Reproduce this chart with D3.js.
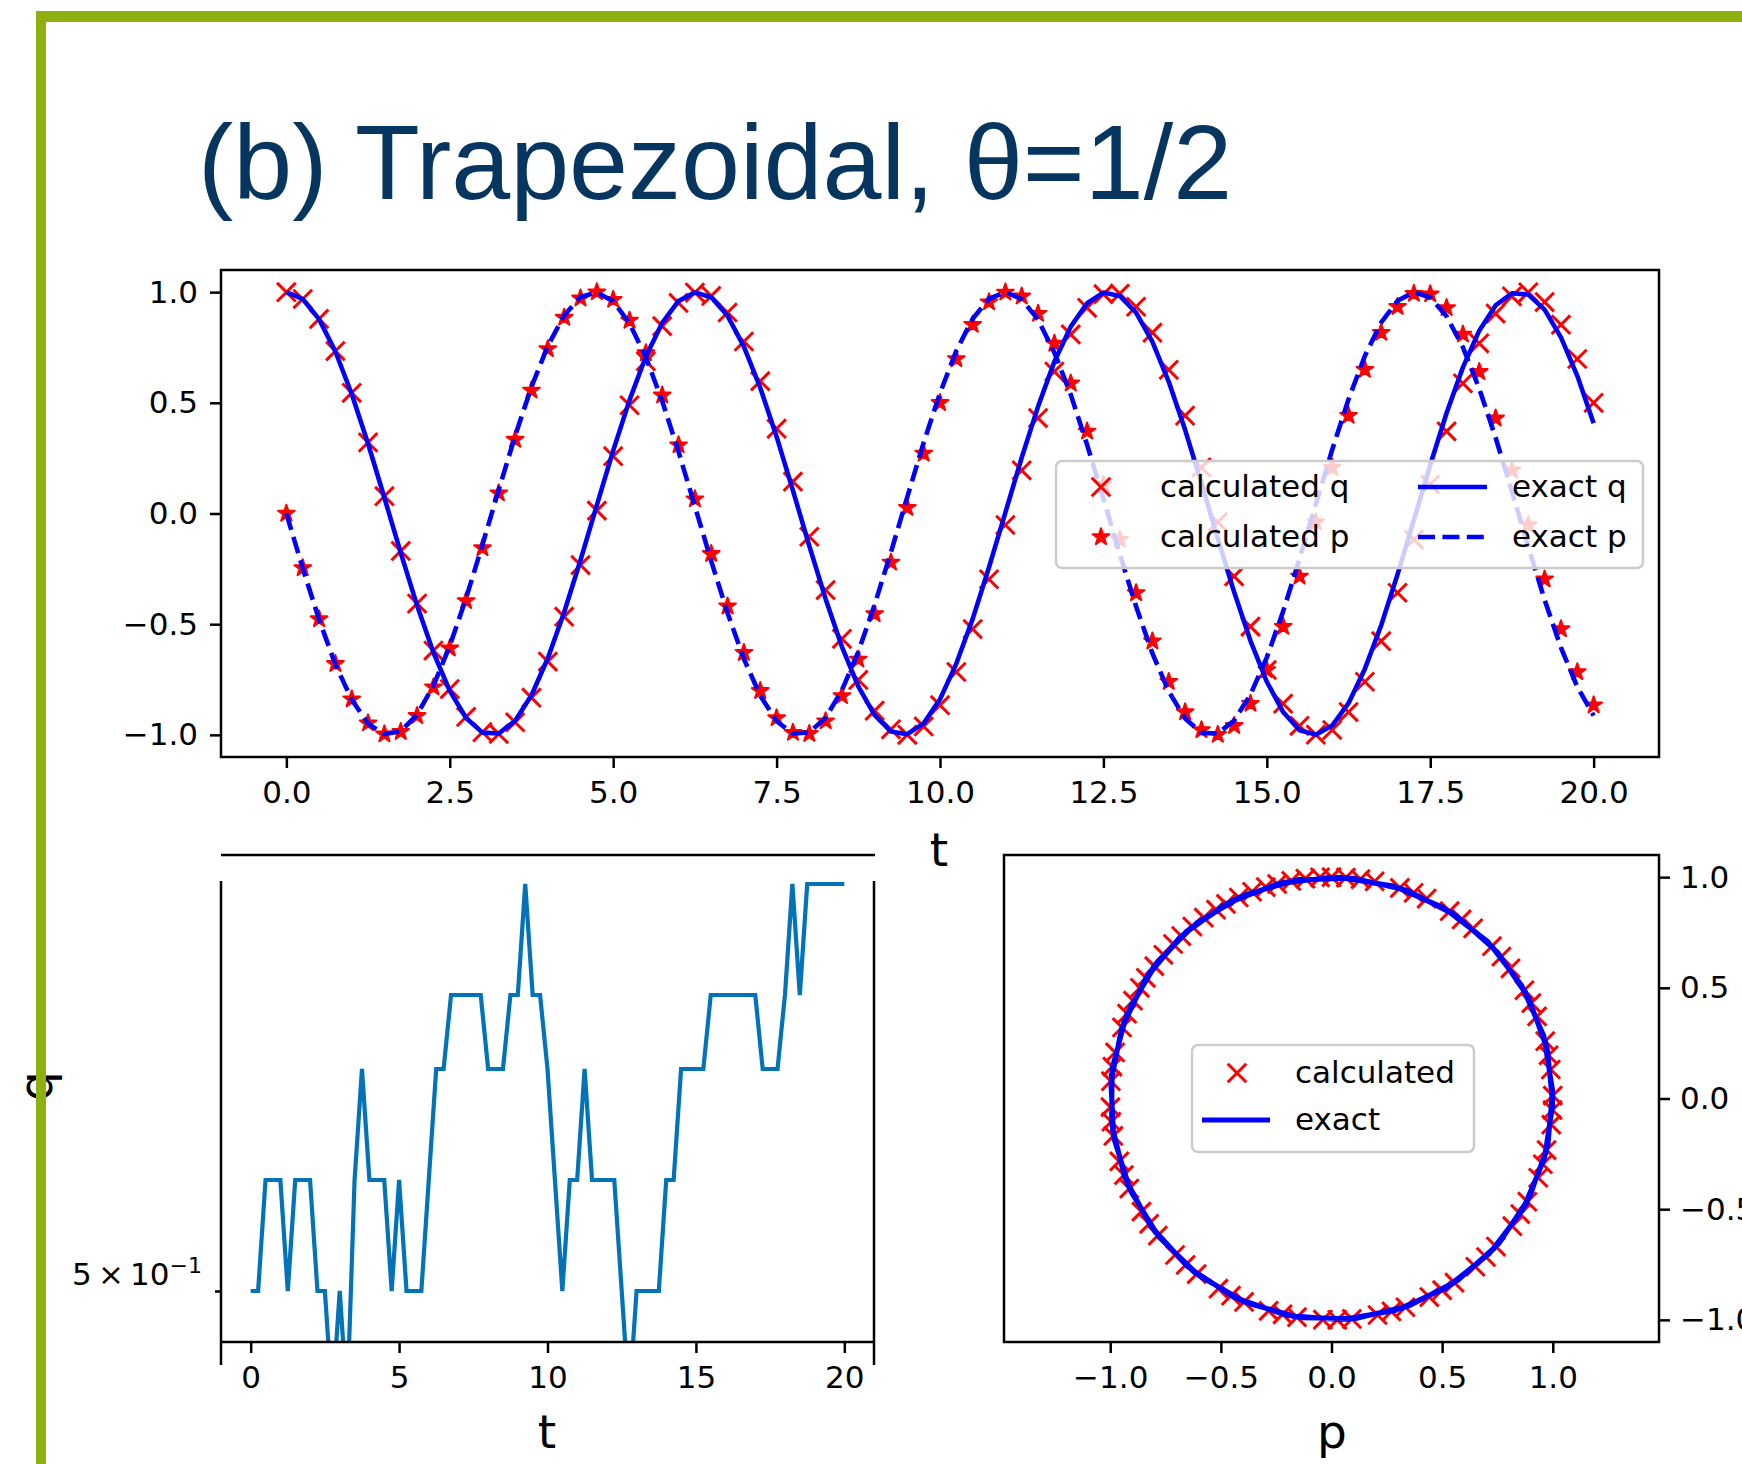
<!DOCTYPE html>
<html lang="en">
<head>
    <meta charset="UTF-8">
    <title>(b) Trapezoidal, θ=1/2</title>
    <script src="https://cdn.jsdelivr.net/npm/d3@7"></script>
    <style>
        body {
            margin: 0;
            background: #fff;
        }
        svg text {
            font-family: 'DejaVu Sans', sans-serif;
        }
        .title {
            font-family: 'Liberation Sans', Arial, sans-serif;
        }
    </style>
</head>
<body>
    <svg width="1742" height="1464"></svg>
    <script>
        // time grid, h = 0.25
        const tValues = [
            0, 0.25, 0.5, 0.75, 1, 1.25, 1.5, 1.75, 2, 2.25,
            2.5, 2.75, 3, 3.25, 3.5, 3.75, 4, 4.25, 4.5, 4.75,
            5, 5.25, 5.5, 5.75, 6, 6.25, 6.5, 6.75, 7, 7.25,
            7.5, 7.75, 8, 8.25, 8.5, 8.75, 9, 9.25, 9.5, 9.75,
            10, 10.25, 10.5, 10.75, 11, 11.25, 11.5, 11.75, 12, 12.25,
            12.5, 12.75, 13, 13.25, 13.5, 13.75, 14, 14.25, 14.5, 14.75,
            15, 15.25, 15.5, 15.75, 16, 16.25, 16.5, 16.75, 17, 17.25,
            17.5, 17.75, 18, 18.25, 18.5, 18.75, 19, 19.25, 19.5, 19.75,
            20
        ];

        const calcQ = [
            1.000, 0.969, 0.879, 0.734, 0.545, 0.321, 0.078, -0.169, -0.407, -0.619,
            -0.793, -0.919, -0.988, -0.996, -0.943, -0.832, -0.669, -0.466, -0.233, 0.013,
            0.259, 0.489, 0.688, 0.846, 0.951, 0.998, 0.983, 0.908, 0.777, 0.598,
            0.383, 0.144, -0.105, -0.346, -0.566, -0.752, -0.891, -0.975, -1.000, -0.962,
            -0.866, -0.716, -0.522, -0.297, -0.052, 0.195, 0.431, 0.641, 0.809, 0.929,
            0.991, 0.993, 0.934, 0.817, 0.649, 0.442, 0.208, -0.039, -0.284, -0.511,
            -0.707, -0.859, -0.959, -0.999, -0.978, -0.897, -0.760, -0.577, -0.358, -0.118,
            0.131, 0.371, 0.588, 0.769, 0.903, 0.981, 0.999, 0.955, 0.853, 0.698,
            0.500
        ];

        const calcP = [
            0.000, -0.246, -0.477, -0.679, -0.839, -0.947, -0.997, -0.986, -0.914, -0.785,
            -0.609, -0.395, -0.156, 0.092, 0.334, 0.556, 0.743, 0.885, 0.972, 1.000,
            0.966, 0.872, 0.725, 0.534, 0.309, 0.065, -0.182, -0.419, -0.629, -0.801,
            -0.924, -0.990, -0.995, -0.938, -0.824, -0.659, -0.454, -0.221, 0.026, 0.271,
            0.500, 0.698, 0.853, 0.955, 0.999, 0.981, 0.903, 0.768, 0.588, 0.371,
            0.131, -0.118, -0.359, -0.577, -0.760, -0.897, -0.978, -0.999, -0.959, -0.859,
            -0.707, -0.511, -0.284, -0.039, 0.208, 0.442, 0.650, 0.817, 0.934, 0.993,
            0.991, 0.929, 0.809, 0.640, 0.430, 0.195, -0.052, -0.297, -0.522, -0.716,
            -0.866
        ];

        const exactQ = [
            1.000, 0.969, 0.878, 0.732, 0.540, 0.315, 0.071, -0.178, -0.416, -0.628,
            -0.801, -0.924, -0.990, -0.994, -0.936, -0.821, -0.654, -0.446, -0.211, 0.038,
            0.284, 0.512, 0.709, 0.861, 0.960, 0.999, 0.977, 0.893, 0.754, 0.568,
            0.347, 0.104, -0.146, -0.386, -0.602, -0.781, -0.911, -0.985, -0.997, -0.948,
            -0.839, -0.678, -0.476, -0.243, 0.004, 0.252, 0.483, 0.686, 0.844, 0.950,
            0.998, 0.983, 0.907, 0.775, 0.595, 0.378, 0.137, -0.113, -0.355, -0.575,
            -0.760, -0.897, -0.979, -0.999, -0.958, -0.857, -0.702, -0.505, -0.275, -0.029,
            0.219, 0.454, 0.660, 0.826, 0.940, 0.995, 0.989, 0.921, 0.796, 0.622,
            0.408
        ];

        const exactP = [
            0.000, -0.247, -0.479, -0.682, -0.841, -0.949, -0.997, -0.984, -0.909, -0.778,
            -0.598, -0.382, -0.141, 0.108, 0.351, 0.572, 0.757, 0.895, 0.978, 0.999,
            0.959, 0.859, 0.706, 0.508, 0.279, 0.033, -0.215, -0.450, -0.657, -0.823,
            -0.938, -0.995, -0.989, -0.923, -0.798, -0.625, -0.412, -0.174, 0.075, 0.320,
            0.544, 0.735, 0.880, 0.970, 1.000, 0.968, 0.876, 0.727, 0.537, 0.311,
            0.066, -0.183, -0.420, -0.632, -0.804, -0.926, -0.991, -0.994, -0.935, -0.818,
            -0.650, -0.442, -0.206, 0.042, 0.288, 0.516, 0.712, 0.863, 0.961, 1.000,
            0.976, 0.891, 0.751, 0.564, 0.343, 0.099, -0.150, -0.390, -0.606, -0.783,
            -0.913
        ];

        // energy minus 0.5, in units of 1e-16 (round-off levels)
        const energyDev = [
            0, 0, 1.11, 1.11, 1.11, 0, 1.11, 1.11, 1.11, 0,
            0, -1.11, 0, -1.11, 1.11, 2.22, 1.11, 1.11, 1.11, 0,
            1.11, 0, 0, 0, 1.11, 2.22, 2.22, 2.96, 2.96, 2.96,
            2.96, 2.96, 2.22, 2.22, 2.22, 2.96, 2.96, 4.07, 2.96, 2.96,
            2.22, 1.11, 0, 1.11, 1.11, 2.22, 1.11, 1.11, 1.11, 1.11,
            0, -1.11, 0, 0, 0, 0, 1.11, 1.11, 2.22, 2.22,
            2.22, 2.22, 2.96, 2.96, 2.96, 2.96, 2.96, 2.96, 2.96, 2.22,
            2.22, 2.22, 2.96, 4.07, 2.96, 4.07, 4.07, 4.07, 4.07, 4.07,
            4.07
        ];

        const topTicksX = [0, 2.5, 5, 7.5, 10, 12.5, 15, 17.5, 20];
        const topTicksY = [-1, -0.5, 0, 0.5, 1];
        const errTicksX = [0, 5, 10, 15, 20];
        const errTicksY = [0];
        const phaseTicks = [-1, -0.5, 0, 0.5, 1];

        const topLegend = [
            { label: "calculated q", kind: "x" },
            { label: "calculated p", kind: "star" },
            { label: "exact q", kind: "solid" },
            { label: "exact p", kind: "dash" }
        ];
        const phaseLegend = [
            { label: "calculated", kind: "x" },
            { label: "exact", kind: "solid" }
        ];

        const RED = "#ff0000";
        const BLUE = "#0000ff";
        const DASH = "17,7.4";

        const svg = d3.select("svg");

        const xSym = d3.symbol().type(d3.symbolX).size((9.3 / 0.6189) ** 2 + 1.7);
        const starSym = d3.symbol().type(d3.symbolStar).size(8.8 * 8.8 / 0.8908);

        function styleAxis(g) {
            g.attr("font-size", 31).attr("font-family", "DejaVu Sans");
            g.select(".domain").remove();
            g.selectAll(".tick line").attr("stroke", "#000").attr("stroke-width", 2.5);
            g.selectAll(".tick text").attr("fill", "#000");
        }

        function frame(x0, y0, x1, y1) {
            svg.append("rect")
                .attr("x", x0).attr("y", y0)
                .attr("width", x1 - x0).attr("height", y1 - y0)
                .attr("fill", "none")
                .attr("stroke", "#000")
                .attr("stroke-width", 2.5);
        }

        function drawMarker(g, kind, x, y) {
            if (kind === "x") {
                g.append("path").attr("d", xSym())
                    .attr("transform", `translate(${x},${y})`)
                    .attr("fill", "none").attr("stroke", RED).attr("stroke-width", 3);
            } else if (kind === "star") {
                g.append("path").attr("d", starSym())
                    .attr("transform", `translate(${x},${y})`)
                    .attr("fill", RED).attr("stroke", RED).attr("stroke-width", 2)
                    .attr("stroke-linejoin", "round");
            }
        }

        // title
        svg.append("text")
            .attr("class", "title")
            .attr("x", 198)
            .attr("y", 199)
            .attr("font-size", 106)
            .attr("fill", "#06365f")
            .text("(b) Trapezoidal, θ=1/2");

        // ---------- top: q, p vs t ----------
        const xTop = d3.scaleLinear().domain([-1, 21]).range([221, 1659]);
        const yTop = d3.scaleLinear().domain([-1.1, 1.1]).range([757, 270]);

        svg.append("g")
            .attr("transform", "translate(0,757)")
            .call(d3.axisBottom(xTop).tickValues(topTicksX).tickFormat(d3.format(".1f")).tickSize(11).tickPadding(13))
            .call(styleAxis);
        svg.append("g")
            .attr("transform", "translate(221,0)")
            .call(d3.axisLeft(yTop).tickValues(topTicksY).tickFormat(d3.format(".1f")).tickSize(11).tickPadding(12))
            .call(styleAxis);

        const topPlot = svg.append("g");
        calcQ.forEach((v, i) => drawMarker(topPlot, "x", xTop(tValues[i]), yTop(v)));
        calcP.forEach((v, i) => drawMarker(topPlot, "star", xTop(tValues[i]), yTop(v)));

        const lineTop = d3.line().x((d, i) => xTop(tValues[i])).y(d => yTop(d));
        topPlot.append("path").datum(exactQ)
            .attr("d", lineTop).attr("fill", "none")
            .attr("stroke", BLUE).attr("stroke-width", 4.6).attr("stroke-linejoin", "round");
        topPlot.append("path").datum(exactP)
            .attr("d", lineTop).attr("fill", "none")
            .attr("stroke", BLUE).attr("stroke-width", 4.6).attr("stroke-dasharray", DASH);

        frame(221, 270, 1659, 757);

        svg.append("text")
            .attr("x", 939).attr("y", 866)
            .attr("text-anchor", "middle").attr("font-size", 47)
            .text("t");

        // legend, two columns
        const legTop = svg.append("g");
        legTop.append("rect")
            .attr("x", 1056).attr("y", 461).attr("width", 587).attr("height", 107)
            .attr("rx", 6).attr("fill", "#fff").attr("fill-opacity", 0.8)
            .attr("stroke", "#cccccc").attr("stroke-width", 2.5);
        topLegend.forEach((d, i) => {
            const col = Math.floor(i / 2);
            const y = 487 + (i % 2) * 50;
            const x0 = col === 0 ? 1101 : 1418;
            const tx = col === 0 ? 1160 : 1512;
            if (d.kind === "x" || d.kind === "star") {
                drawMarker(legTop, d.kind, x0, y);
            } else {
                legTop.append("line")
                    .attr("x1", x0).attr("x2", x0 + 69).attr("y1", y).attr("y2", y)
                    .attr("stroke", BLUE).attr("stroke-width", 4.6)
                    .attr("stroke-dasharray", d.kind === "dash" ? DASH : null);
            }
            legTop.append("text")
                .attr("x", tx).attr("y", y).attr("dy", "0.32em")
                .attr("font-size", 31).text(d.label);
        });

        // ---------- bottom left: energy (log axis) ----------
        const xErr = d3.scaleLinear().domain([-1, 21]).range([221, 874]);
        const yErr = d3.scaleLinear().domain([-0.51, 4.1]).range([1342, 881]);

        svg.append("defs").append("clipPath").attr("id", "errClip")
            .append("rect").attr("x", 221).attr("y", 870).attr("width", 653).attr("height", 472);

        svg.append("path").datum(energyDev)
            .attr("clip-path", "url(#errClip)")
            .attr("d", d3.line().x((d, i) => xErr(tValues[i])).y(d => yErr(d)))
            .attr("fill", "none")
            .attr("stroke", "#0273b8")
            .attr("stroke-width", 4.2)
            .attr("stroke-linejoin", "miter");

        // detached spines
        const spine = svg.append("g").attr("stroke", "#000").attr("stroke-width", 2.5);
        spine.append("line").attr("x1", 221).attr("x2", 875).attr("y1", 855).attr("y2", 855);
        spine.append("line").attr("x1", 221).attr("x2", 221).attr("y1", 881).attr("y2", 1365);
        spine.append("line").attr("x1", 874).attr("x2", 874).attr("y1", 881).attr("y2", 1365);
        spine.append("line").attr("x1", 221).attr("x2", 875).attr("y1", 1342).attr("y2", 1342);

        svg.append("g")
            .attr("transform", "translate(0,1342)")
            .call(d3.axisBottom(xErr).tickValues(errTicksX).tickFormat(d3.format("d")).tickSize(11).tickPadding(13))
            .call(styleAxis);
        svg.append("g")
            .attr("transform", "translate(221,0)")
            .call(d3.axisLeft(yErr).tickValues(errTicksY).tickFormat("").tickSize(6))
            .call(styleAxis);

        const errLabel = svg.append("text")
            .attr("x", 202).attr("y", yErr(errTicksY[0]) - 6)
            .attr("text-anchor", "end").attr("font-size", 31);
        errLabel.append("tspan").text("5\u2009×\u200910");
        errLabel.append("tspan").attr("dy", -12).attr("font-size", 22).text("−1");

        svg.append("text")
            .attr("x", 547).attr("y", 1448)
            .attr("text-anchor", "middle").attr("font-size", 47)
            .text("t");
        svg.append("text")
            .attr("transform", "translate(52,1086) rotate(-90)")
            .attr("text-anchor", "middle").attr("font-size", 47)
            .text("q");

        // ---------- bottom right: phase portrait ----------
        const xPh = d3.scaleLinear().domain([-1.48, 1.48]).range([1004, 1659]);
        const yPh = d3.scaleLinear().domain([-1.1, 1.1]).range([1342, 855]);

        svg.append("g")
            .attr("transform", "translate(0,1342)")
            .call(d3.axisBottom(xPh).tickValues(phaseTicks).tickFormat(d3.format(".1f")).tickSize(11).tickPadding(13))
            .call(styleAxis);
        svg.append("g")
            .attr("transform", "translate(1659,0)")
            .call(d3.axisRight(yPh).tickValues(phaseTicks).tickFormat(d3.format(".1f")).tickSize(11).tickPadding(10))
            .call(styleAxis);

        const phPlot = svg.append("g");
        calcP.forEach((v, i) => drawMarker(phPlot, "x", xPh(v), yPh(calcQ[i])));
        phPlot.append("path").datum(exactP)
            .attr("d", d3.line().x(d => xPh(d)).y((d, i) => yPh(exactQ[i])))
            .attr("fill", "none")
            .attr("stroke", BLUE).attr("stroke-width", 5)
            .attr("stroke-linejoin", "round");

        frame(1004, 855, 1659, 1342);

        svg.append("text")
            .attr("x", 1332).attr("y", 1448)
            .attr("text-anchor", "middle").attr("font-size", 47)
            .text("p");

        const legPh = svg.append("g");
        legPh.append("rect")
            .attr("x", 1192).attr("y", 1045).attr("width", 282).attr("height", 107)
            .attr("rx", 6).attr("fill", "#fff").attr("fill-opacity", 0.8)
            .attr("stroke", "#cccccc").attr("stroke-width", 2.5);
        phaseLegend.forEach((d, i) => {
            const y = 1073 + i * 47;
            if (d.kind === "x") {
                drawMarker(legPh, "x", 1237, y);
            } else {
                legPh.append("line")
                    .attr("x1", 1202).attr("x2", 1270).attr("y1", y).attr("y2", y)
                    .attr("stroke", BLUE).attr("stroke-width", 5);
            }
            legPh.append("text")
                .attr("x", 1295).attr("y", y).attr("dy", "0.32em")
                .attr("font-size", 31).text(d.label);
        });

        // slide border (drawn last, covers the q label)
        svg.append("rect").attr("x", 37).attr("y", 11).attr("width", 1705).attr("height", 11).attr("fill", "#8db00e");
        svg.append("rect").attr("x", 36).attr("y", 11).attr("width", 10).attr("height", 1453).attr("fill", "#8db00e");
    </script>
